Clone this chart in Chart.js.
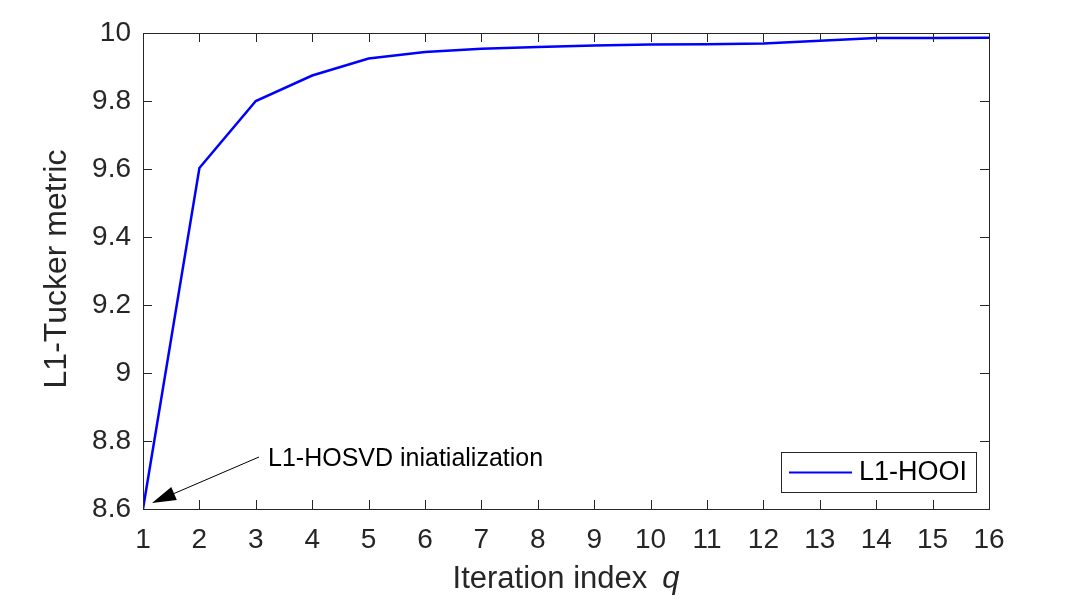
<!DOCTYPE html>
<html>
<head>
<meta charset="utf-8">
<script src="https://cdn.jsdelivr.net/npm/chart.js@4.4.0/dist/chart.umd.min.js"></script>
<style>
    body { margin: 0; background: #fff; }
    #wrap { width: 1092px; height: 609px; }
</style>
</head>
<body>
<div id="wrap"><canvas id="metricChart" width="1092" height="609"></canvas></div>
<script>
// iteration index q and the L1-Tucker metric
const iterations = [1, 2, 3, 4, 5, 6, 7, 8, 9, 10, 11, 12, 13, 14, 15, 16];
const metric = [8.600, 9.603, 9.800, 9.875, 9.925, 9.944, 9.954, 9.959, 9.963, 9.966, 9.967, 9.969, 9.977, 9.985, 9.985, 9.986];
const seriesLabel = 'L1-HOOI';
const xTicks = iterations;
const yTicks = [8.6, 8.8, 9, 9.2, 9.4, 9.6, 9.8, 10];
const xTitle = 'Iteration index';
const xTitleVar = 'q';
const yTitle = 'L1-Tucker metric';
const noteText = 'L1-HOSVD iniatialization';

const ink = '#262626';
const fontFamily = '"Liberation Sans", Arial, Helvetica, sans-serif';

// MATLAB style box: inward ticks on all four sides, legend, titles and the arrow note
const matlabAxes = {
    id: 'matlabAxes',
    afterDraw(chart) {
        const ctx = chart.ctx;
        const area = chart.chartArea;
        const xs = chart.scales.x;
        const ys = chart.scales.y;
        const tickLen = 9;

        ctx.save();
        ctx.strokeStyle = ink;
        ctx.lineWidth = 1;
        ctx.beginPath();
        xTicks.forEach(v => {
            const px = Math.round(xs.getPixelForValue(v)) + 0.5;
            ctx.moveTo(px, area.bottom);
            ctx.lineTo(px, area.bottom - tickLen);
            ctx.moveTo(px, area.top);
            ctx.lineTo(px, area.top + tickLen);
        });
        yTicks.forEach(v => {
            const py = Math.round(ys.getPixelForValue(v)) + 0.5;
            ctx.moveTo(area.left, py);
            ctx.lineTo(area.left + tickLen, py);
            ctx.moveTo(area.right, py);
            ctx.lineTo(area.right - tickLen, py);
        });
        ctx.stroke();
        ctx.strokeRect(Math.round(area.left) + 0.5, Math.round(area.top) + 0.5,
            Math.round(area.right - area.left), Math.round(area.bottom - area.top));

        // axis titles
        ctx.fillStyle = ink;
        ctx.font = '31px ' + fontFamily;
        ctx.textBaseline = 'alphabetic';
        const gap = 15;
        const wMain = ctx.measureText(xTitle).width;
        ctx.font = 'italic 31px ' + fontFamily;
        const wVar = ctx.measureText(xTitleVar).width;
        const cx = (area.left + area.right) / 2;
        let sx = cx - (wMain + gap + wVar) / 2;
        ctx.font = '31px ' + fontFamily;
        ctx.textAlign = 'left';
        ctx.fillText(xTitle, sx, 588);
        ctx.font = 'italic 31px ' + fontFamily;
        ctx.fillText(xTitleVar, sx + wMain + gap, 588);

        ctx.save();
        ctx.translate(66, (area.top + area.bottom) / 2 - 2);
        ctx.rotate(-Math.PI / 2);
        ctx.font = '32px ' + fontFamily;
        ctx.textAlign = 'center';
        ctx.fillText(yTitle, 0, 0);
        ctx.restore();

        // legend box in the lower right corner
        const lx = area.right - 208, ly = area.bottom - 57, lw = 195, lh = 40;
        ctx.fillStyle = '#fff';
        ctx.fillRect(lx, ly, lw, lh);
        ctx.strokeStyle = ink;
        ctx.strokeRect(lx + 0.5, ly + 0.5, lw, lh);
        ctx.strokeStyle = chart.data.datasets[0].borderColor;
        ctx.lineWidth = 2;
        ctx.beginPath();
        ctx.moveTo(lx + 8, ly + 20.5);
        ctx.lineTo(lx + 71, ly + 20.5);
        ctx.stroke();
        ctx.fillStyle = '#000';
        ctx.font = '27px ' + fontFamily;
        ctx.textAlign = 'left';
        ctx.textBaseline = 'middle';
        ctx.fillText(chart.data.datasets[0].label, lx + 78, ly + 21);

        // arrow note pointing at the first iterate
        const tipX = xs.getPixelForValue(iterations[0]) + 9;
        const tipY = ys.getPixelForValue(metric[0]) - 6;
        const tailX = tipX + 107, tailY = tipY - 46;
        const ang = Math.atan2(tailY - tipY, tailX - tipX);
        const headLen = 24, headW = 7;
        const bx = tipX + headLen * Math.cos(ang), by = tipY + headLen * Math.sin(ang);
        ctx.strokeStyle = '#000';
        ctx.lineWidth = 1;
        ctx.beginPath();
        ctx.moveTo(bx, by);
        ctx.lineTo(tailX, tailY);
        ctx.stroke();
        ctx.fillStyle = '#000';
        ctx.beginPath();
        ctx.moveTo(tipX, tipY);
        ctx.lineTo(bx + headW * Math.sin(ang), by - headW * Math.cos(ang));
        ctx.lineTo(bx - headW * Math.sin(ang), by + headW * Math.cos(ang));
        ctx.closePath();
        ctx.fill();

        ctx.font = '25px ' + fontFamily;
        ctx.textAlign = 'left';
        ctx.textBaseline = 'alphabetic';
        ctx.fillStyle = '#000';
        ctx.fillText(noteText, tailX + 9, tailY + 9);
        ctx.restore();
    }
};

const data = {
    labels: iterations,
    datasets: [{
        label: seriesLabel,
        data: iterations.map((q, i) => ({ x: q, y: metric[i] })),
        borderColor: '#0000ff',
        borderWidth: 2.5,
        pointRadius: 0,
        tension: 0,
        fill: false
    }]
};

const config = {
    type: 'line',
    data: data,
    options: {
        responsive: false,
        animation: false,
        devicePixelRatio: 1,
        layout: { padding: { top: 33, right: 103, left: 0, bottom: 0 } },
        plugins: {
            legend: { display: false },
            tooltip: { enabled: false }
        },
        scales: {
            x: {
                type: 'linear',
                min: 1,
                max: 16,
                afterFit: scale => { scale.height = 100; },
                afterBuildTicks: scale => { scale.ticks = xTicks.map(v => ({ value: v })); },
                grid: { display: false, drawTicks: false, tickLength: 0 },
                border: { display: false },
                ticks: {
                    color: ink,
                    padding: 14,
                    maxRotation: 0,
                    autoSkip: false,
                    font: { family: fontFamily, size: 28 },
                    callback: v => String(v)
                }
            },
            y: {
                type: 'linear',
                min: 8.6,
                max: 10,
                afterFit: scale => { scale.width = 143; },
                afterBuildTicks: scale => { scale.ticks = yTicks.map(v => ({ value: v })); },
                grid: { display: false, drawTicks: false, tickLength: 0 },
                border: { display: false },
                ticks: {
                    color: ink,
                    padding: 12,
                    autoSkip: false,
                    font: { family: fontFamily, size: 28 },
                    callback: v => String(+v.toFixed(1))
                }
            }
        }
    },
    plugins: [matlabAxes]
};

new Chart(document.getElementById('metricChart'), config);
</script>
</body>
</html>
